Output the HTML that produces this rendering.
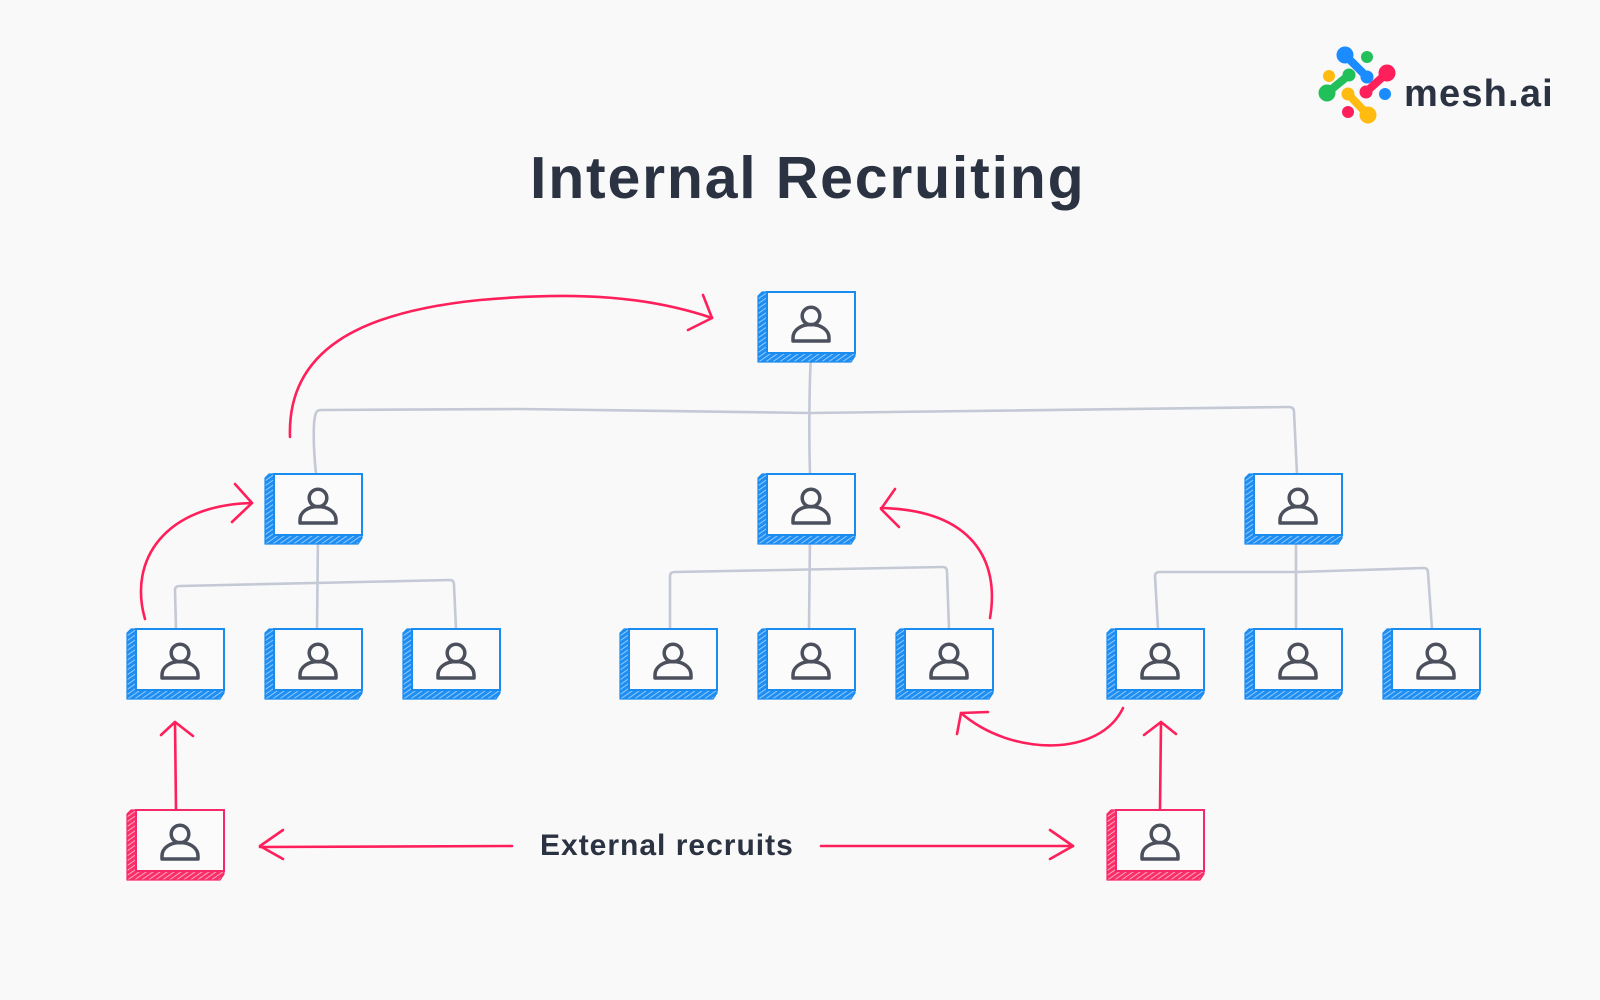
<!DOCTYPE html>
<html>
<head>
<meta charset="utf-8">
<style>
  html,body{margin:0;padding:0;background:#f9f9f9;}
  body{width:1600px;height:1000px;overflow:hidden;}
  svg{display:block;}
</style>
</head>
<body>
<svg width="1600" height="1000" viewBox="0 0 1600 1000" xmlns="http://www.w3.org/2000/svg">
  <defs>
    <pattern id="hb" patternUnits="userSpaceOnUse" width="4" height="4" patternTransform="rotate(55)">
      <rect width="4" height="4" fill="#1e8ef2"/>
      <line x1="0.5" y1="0" x2="0.5" y2="4" stroke="#9fd0ff" stroke-width="0.9"/>
    </pattern>
    <pattern id="hp" patternUnits="userSpaceOnUse" width="4" height="4" patternTransform="rotate(55)">
      <rect width="4" height="4" fill="#fb2f68"/>
      <line x1="0.5" y1="0" x2="0.5" y2="4" stroke="#ffb3c8" stroke-width="0.9"/>
    </pattern>
    <g id="icon">
      <circle cx="44" cy="24" r="8.8" fill="none" stroke="#4b505c" stroke-width="3.5"/>
      <path d="M26,49 L26,46 C26,38 34,32.5 44,32.5 C54,32.5 62,38 62,46 L62,49 Z" fill="none" stroke="#4b505c" stroke-width="3.5" stroke-linejoin="round"/>
    </g>
    <g id="nb">
      <polygon points="-5,0 0,0 0,61 88,61 88,64 84,70 -9,70 -9,4" fill="url(#hb)" stroke="#1a8cf0" stroke-width="1.2" stroke-linejoin="round"/>
      <rect x="0" y="0" width="88" height="61" fill="#fbfbfc" stroke="#1a8cf0" stroke-width="2"/>
      <use href="#icon"/>
    </g>
    <g id="np">
      <polygon points="-5,0 0,0 0,61 88,61 88,64 84,70 -9,70 -9,4" fill="url(#hp)" stroke="#f5286a" stroke-width="1.2" stroke-linejoin="round"/>
      <rect x="0" y="0" width="88" height="61" fill="#fbfbfc" stroke="#f5286a" stroke-width="2"/>
      <use href="#icon"/>
    </g>
  </defs>

  <rect width="1600" height="1000" fill="#f9f9f9"/>

  <!-- Logo -->
  <g stroke-linecap="round">
    <line x1="1345" y1="55" x2="1367" y2="77" stroke="#1a8cff" stroke-width="8"/>
    <line x1="1327" y1="93" x2="1349" y2="75" stroke="#22c05a" stroke-width="8"/>
    <line x1="1387" y1="73" x2="1366" y2="92" stroke="#ff1f5a" stroke-width="8"/>
    <line x1="1368" y1="115" x2="1348" y2="94" stroke="#ffbb10" stroke-width="8"/>
  </g>
  <circle cx="1345" cy="55" r="8.5" fill="#1a8cff"/>
  <circle cx="1367" cy="77" r="6.5" fill="#1a8cff"/>
  <circle cx="1327" cy="93" r="8.5" fill="#22c05a"/>
  <circle cx="1349" cy="75" r="6.5" fill="#22c05a"/>
  <circle cx="1387" cy="73" r="8.5" fill="#ff1f5a"/>
  <circle cx="1366" cy="92" r="6.5" fill="#ff1f5a"/>
  <circle cx="1368" cy="115" r="8.5" fill="#ffbb10"/>
  <circle cx="1348" cy="94" r="6.5" fill="#ffbb10"/>
  <circle cx="1367" cy="57" r="6" fill="#22c05a"/>
  <circle cx="1329" cy="76" r="6" fill="#ffbb10"/>
  <circle cx="1385" cy="94" r="6" fill="#1a8cff"/>
  <circle cx="1348" cy="112" r="6" fill="#ff1f5a"/>
  <text x="1404" y="106" font-family="Liberation Sans, sans-serif" font-weight="700" font-size="38" letter-spacing="1.2" fill="#2b3242">mesh.ai</text>

  <!-- Title -->
  <text x="530" y="198" font-family="Liberation Sans, sans-serif" font-weight="700" font-size="59" letter-spacing="1.8" fill="#2b3242">Internal Recruiting</text>

  <!-- Gray connectors -->
  <g fill="none" stroke="#c4c9d5" stroke-width="2.6" stroke-linecap="round" stroke-linejoin="round">
    <path d="M811,355 C809,390 809,440 810,474"/>
    <path d="M316,474 C313,445 313,420 316,413 Q317,410 321,410 L520,409 L810,413 L1289,407 Q1294,407 1294,412 L1297,474"/>
    <path d="M318,535 L317,629"/>
    <path d="M176,629 L175,590 Q175,586 180,586 L450,580 Q454,580 454,585 L456,629"/>
    <path d="M810,535 L809,629"/>
    <path d="M670,629 L670,576 Q670,572 675,572 L943,567 Q947,567 947,572 L949,629"/>
    <path d="M1296,535 L1296,629"/>
    <path d="M1158,629 L1155,576 Q1155,572 1160,572 L1297,572 L1424,568 Q1428,568 1428,573 L1432,629"/>
  </g>

  <!-- Nodes -->
  <use href="#nb" x="767" y="292"/>
  <use href="#nb" x="274" y="474"/>
  <use href="#nb" x="767" y="474"/>
  <use href="#nb" x="1254" y="474"/>
  <use href="#nb" x="136" y="629"/>
  <use href="#nb" x="274" y="629"/>
  <use href="#nb" x="412" y="629"/>
  <use href="#nb" x="629" y="629"/>
  <use href="#nb" x="767" y="629"/>
  <use href="#nb" x="905" y="629"/>
  <use href="#nb" x="1116" y="629"/>
  <use href="#nb" x="1254" y="629"/>
  <use href="#nb" x="1392" y="629"/>
  <use href="#np" x="136" y="810"/>
  <use href="#np" x="1116" y="810"/>

  <!-- Red arrows -->
  <g fill="none" stroke="#ff1f5a" stroke-width="2.6" stroke-linecap="round" stroke-linejoin="round">
    <path d="M290,437 C287,350 360,312 480,300 C580,291 650,297 712,318"/>
    <path d="M703,295 L712,318 L688,330"/>
    <path d="M145,619 C128,560 165,505 252,503"/>
    <path d="M235,484 L252,503 L232,522"/>
    <path d="M990,618 C1000,560 972,510 881,508"/>
    <path d="M895,489 L881,509 L899,527"/>
    <path d="M1123,708 C1100,757 1012,757 961,713"/>
    <path d="M988,712 L961,713 L957,734"/>
    <path d="M176,809 L175,722"/>
    <path d="M161,735 L175,722 L193,736"/>
    <path d="M1160,809 L1161,722"/>
    <path d="M1144,735 L1161,722 L1176,734"/>
    <path d="M512,846 L260,847"/>
    <path d="M283,830 L260,846 L283,859"/>
    <path d="M821,846 L1073,846"/>
    <path d="M1050,830 L1073,846 L1050,859"/>
  </g>

  <text x="540" y="855" font-family="Liberation Sans, sans-serif" font-weight="700" font-size="30" letter-spacing="1" fill="#2b3242">External recruits</text>
</svg>
</body>
</html>
